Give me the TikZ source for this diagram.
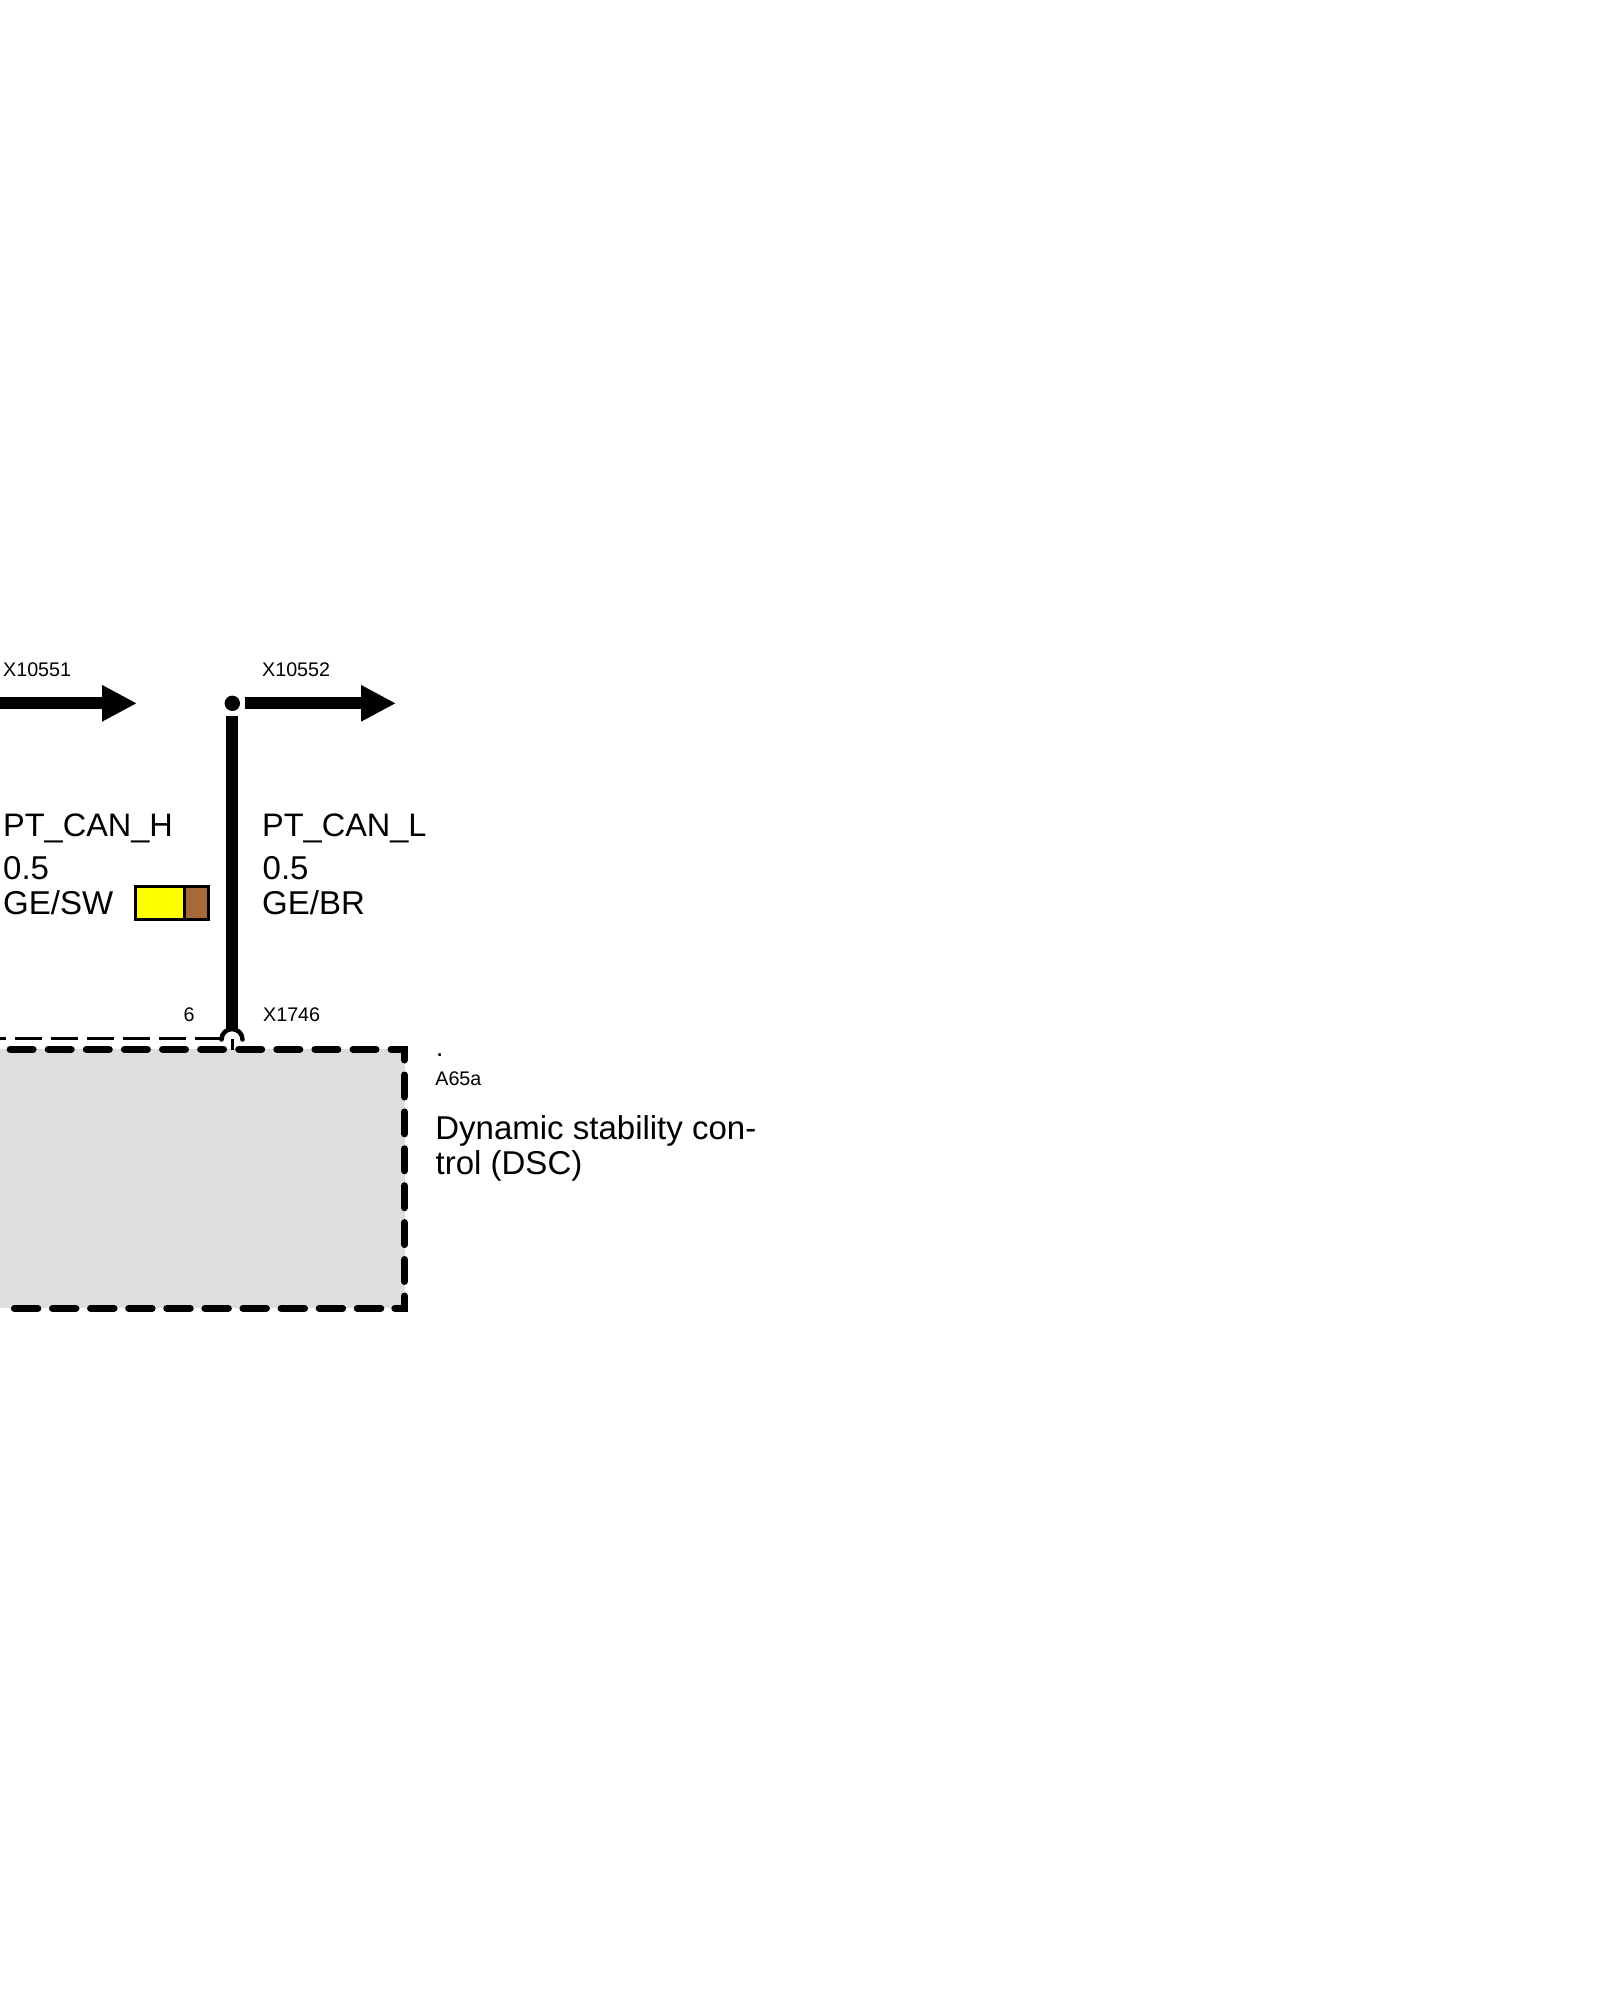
\documentclass[tikz,border=0pt]{standalone}
\usepackage{fontspec}
\setmainfont{Liberation Sans}
\usetikzlibrary{arrows.meta}
\definecolor{boxgray}{HTML}{DEDEDE}
\definecolor{wirebrown}{HTML}{A5693A}
\definecolor{wireyellow}{HTML}{FFFF00}
\tikzset{
  big/.style={anchor=base west,inner sep=0pt,font=\fontsize{33}{35}\selectfont},
  canlabel/.style={anchor=base west,inner sep=0pt,font=\fontsize{32.5}{35}\selectfont},
  small/.style={anchor=base west,inner sep=0pt,font=\fontsize{19.7}{22}\selectfont},
  wire/.style={line width=12pt,draw=black},
  bigarrow/.style={wire,-{Triangle[length=35pt,width=34pt]}},
  heavy/.style={line width=7pt,line cap=round},
}
\begin{document}
\begin{tikzpicture}[x=1pt,y=-1pt]
\useasboundingbox (0,0) rectangle (1600,2000);
\clip (0,0) rectangle (1600,2000);
% control unit box
\fill[boxgray] (0,1049.3) rectangle (404.5,1308.3);
\draw[heavy,dash pattern=on 23pt off 15.1pt] (376,1049.3) -- (0,1049.3);
\draw[heavy,dash pattern=on 22pt off 14.9pt] (404.5,1075) -- (404.5,1290);
\draw[heavy,dash pattern=on 23.5pt off 14.6pt] (380.75,1308.3) -- (0,1308.3);
\draw[heavy,line join=miter] (391,1049.3) -- (404.5,1049.3) -- (404.5,1060);
\draw[heavy,line join=miter] (404.5,1296) -- (404.5,1308.3) -- (394.8,1308.3);
% plug boundary
\draw[line width=3pt,dash pattern=on 26.7pt off 9.3pt] (221.7,1038) -- (0,1038);
\coordinate (socketL) at (221.5,1039.5);
\coordinate (socketTop) at (232.3,1029);
\coordinate (pin) at (232,1039.3);
\coordinate (pinEnd) at (232,1050);
\draw[line width=4.5pt,line cap=round] (socketL) arc[start angle=180,end angle=0,radius=10.5pt];
\draw[line width=3pt] (pin) -- (pinEnd);
% wires
\node[circle,fill=black,inner sep=0pt,minimum size=15.4pt,outer sep=4.5pt] (dot) at (232.3,703.3) {};
\coordinate (leftStart) at (0,703.3);
\coordinate (leftEnd) at (137,703.3);
\coordinate (rightEnd) at (396,703.3);
\draw[bigarrow] (leftStart) -- (leftEnd);
\draw[bigarrow] (dot) -- (rightEnd);
\draw[wire] (dot) -- (socketTop);
% colour key
\draw[line width=3pt,fill=wireyellow] (135.8,886.5) rectangle (184,919.5);
\draw[line width=3pt,fill=wirebrown] (184,886.5) rectangle (208.8,919.5);
% labels
\node[small] (x1) at (3,676) {X10551};
\node[small] (x2) at (262,676) {X10552};
\node[canlabel] (n1) at (3,836.7) {PT\_CAN\_H};
\node[canlabel] (n2) at (262,836.7) {PT\_CAN\_L};
\node[big] (s1) at (3,879) {0.5};
\node[big] (s2) at (262.5,879) {0.5};
\node[big] (c1) at (3,914) {GE/SW};
\node[big] (c2) at (262,914) {GE/BR};
\node[small] (pinno) at (183.5,1021) {6};
\node[small] (plug) at (263,1021) {X1746};
\node[anchor=base west,inner sep=0pt,font=\fontsize{26}{28}\selectfont] (dotlbl) at (436,1056.5) {.};
\node[small] (code) at (435.2,1085) {A65a};
\node[big] (d1) at (435.2,1139.3) {Dynamic stability con-};
\node[big] (d2) at (435.5,1174) {trol (DSC)};
\end{tikzpicture}
\end{document}
